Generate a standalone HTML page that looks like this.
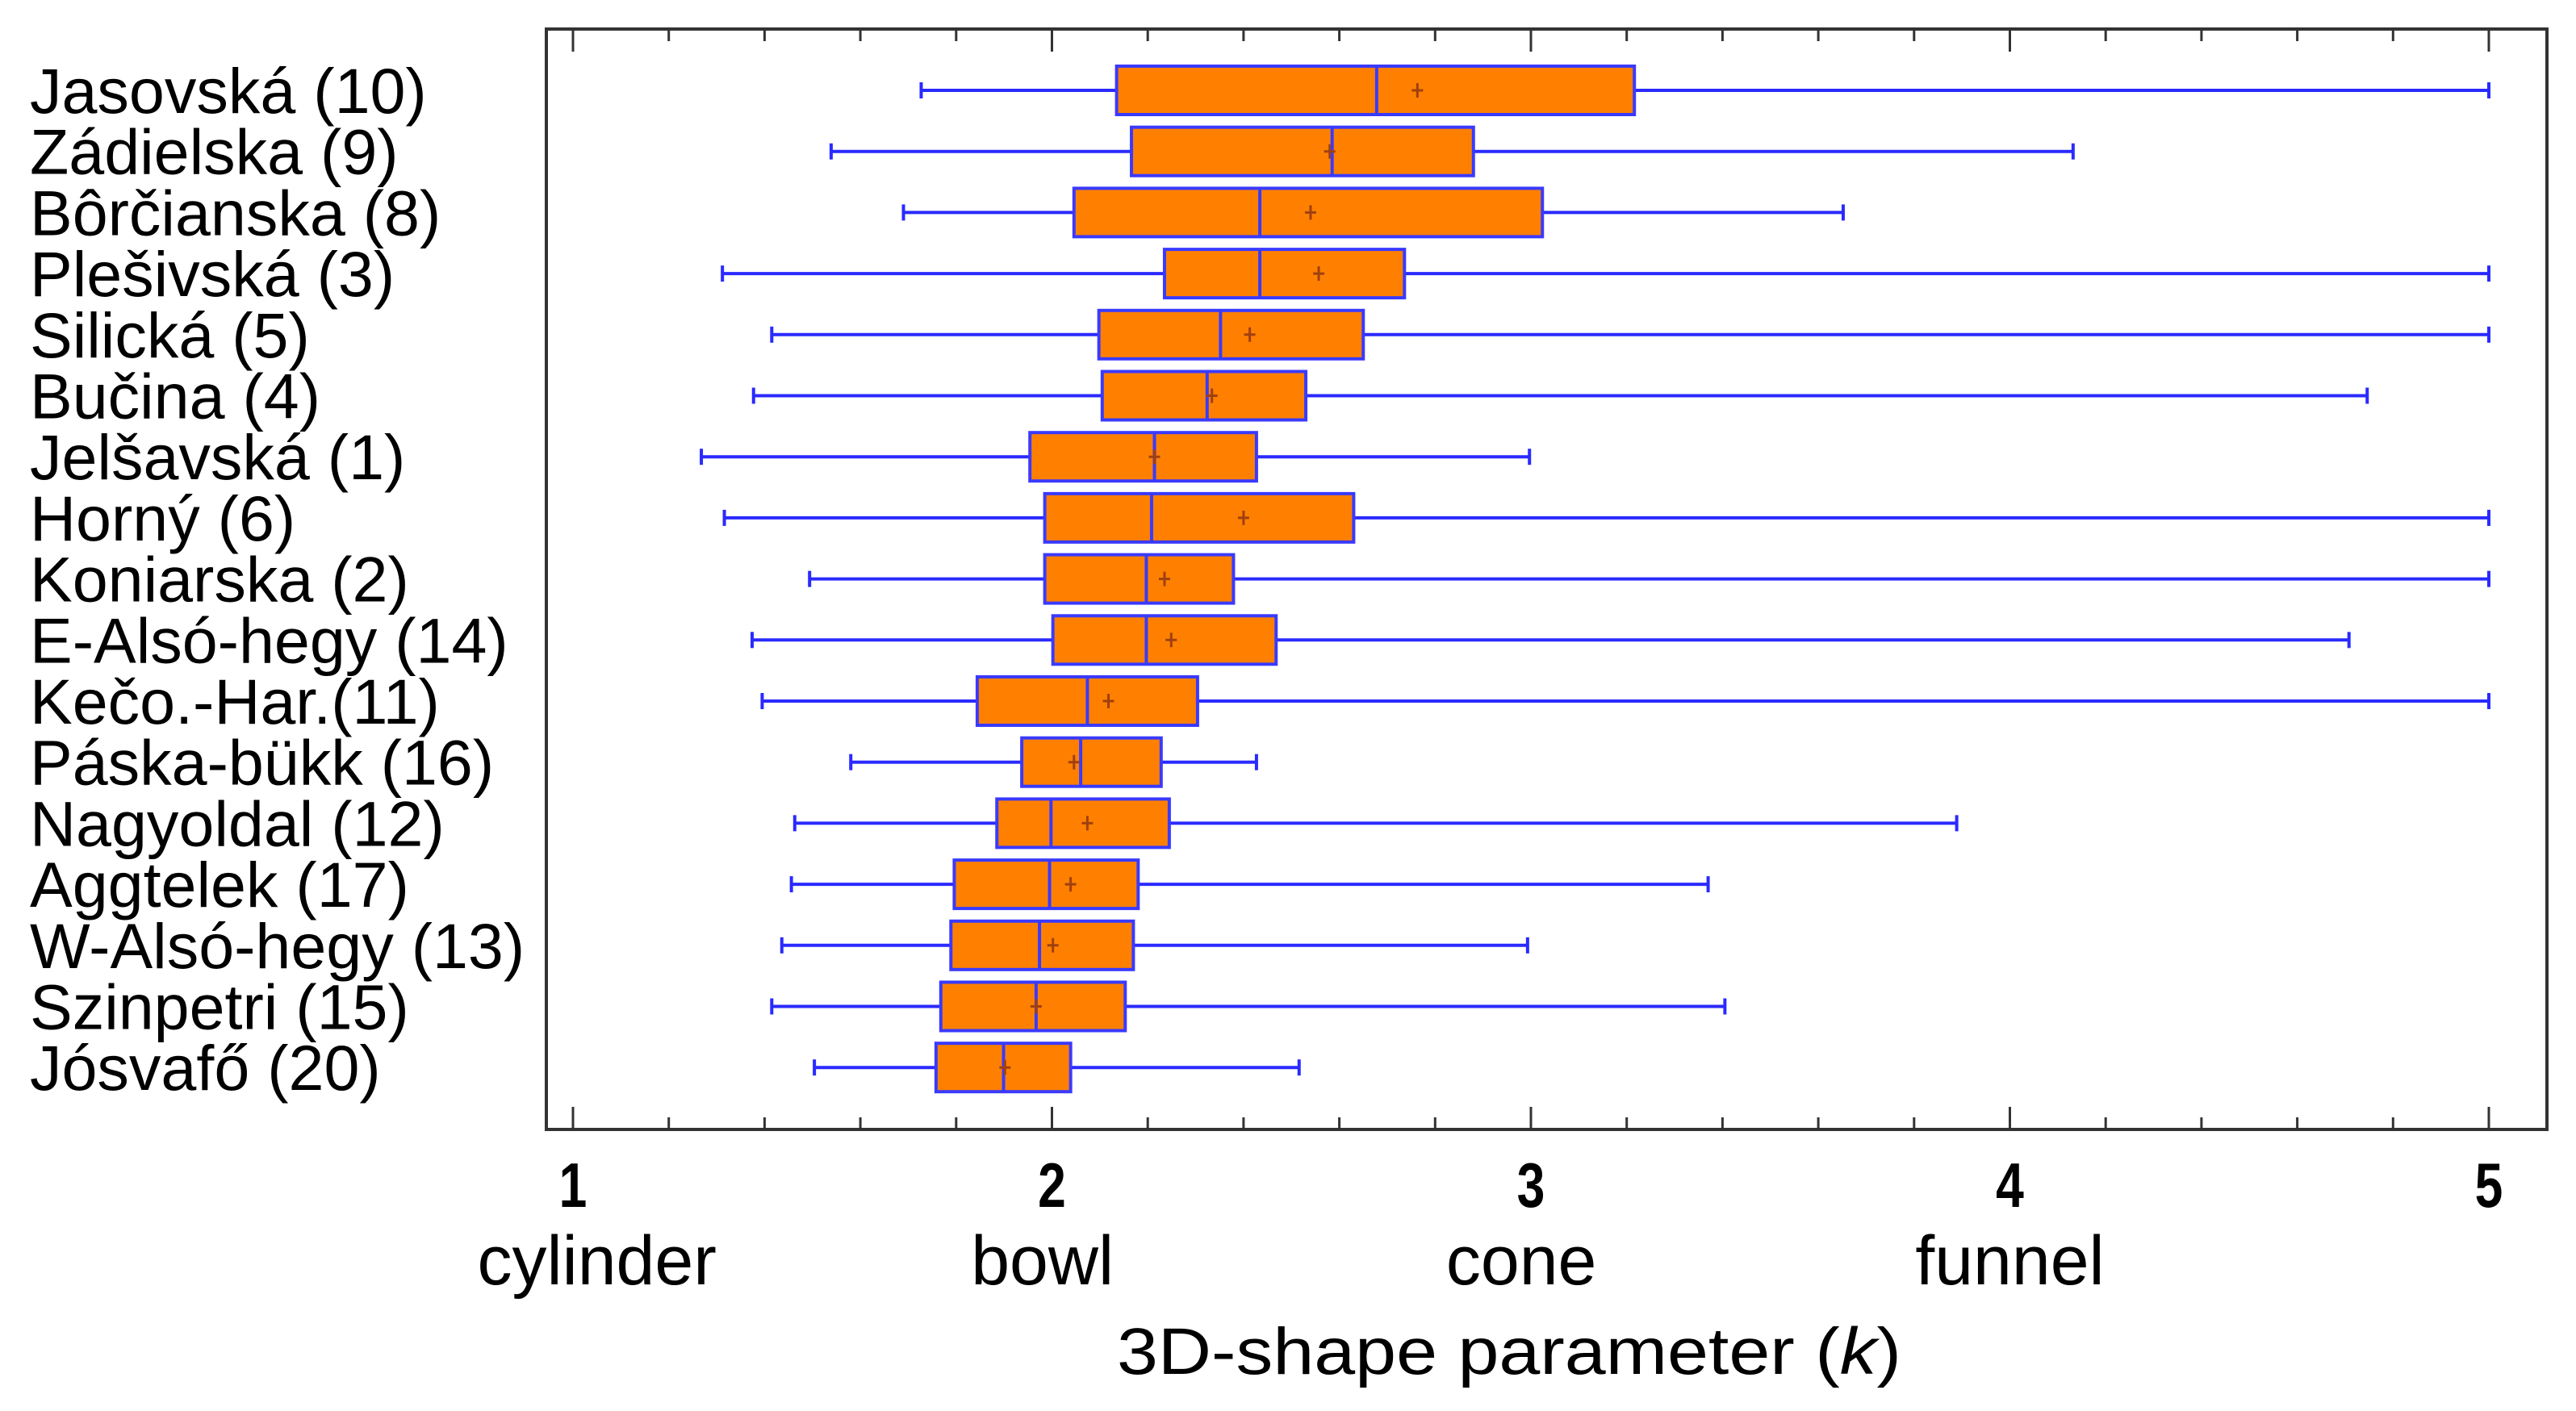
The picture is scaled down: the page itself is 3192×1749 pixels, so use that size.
<!DOCTYPE html>
<html><head><meta charset="utf-8"><style>
html,body{margin:0;padding:0;background:#fff;}
svg{display:block;}
text{font-family:"Liberation Sans",Arial,sans-serif;fill:#000;}
</style></head><body>
<svg id="chart" width="3192" height="1749" viewBox="0 0 3192 1749" xmlns="http://www.w3.org/2000/svg">
<g id="plot"></g>
</svg>
<script>
const categories = ["Jasovská (10)","Zádielska (9)","Bôrčianska (8)","Plešivská (3)","Silická (5)","Bučina (4)","Jelšavská (1)","Horný (6)","Koniarska (2)","E-Alsó-hegy (14)","Kečo.-Har.(11)","Páska-bükk (16)","Nagyoldal (12)","Aggtelek (17)","W-Alsó-hegy (13)","Szinpetri (15)","Jósvafő (20)"];
const whiskerLow = [1.727,1.539,1.690,1.312,1.415,1.377,1.268,1.316,1.494,1.374,1.395,1.580,1.463,1.456,1.436,1.415,1.504];
const q1 = [2.135,2.166,2.046,2.235,2.098,2.105,1.954,1.985,1.985,2.002,1.844,1.937,1.885,1.796,1.789,1.768,1.758];
const median = [2.678,2.585,2.434,2.434,2.352,2.324,2.214,2.208,2.197,2.197,2.074,2.060,1.998,1.995,1.974,1.967,1.899];
const mean = [2.763,2.580,2.540,2.557,2.413,2.334,2.214,2.400,2.235,2.249,2.118,2.046,2.074,2.039,2.002,1.967,1.902];
const q3 = [3.216,2.880,3.024,2.736,2.650,2.530,2.427,2.630,2.379,2.468,2.304,2.228,2.245,2.180,2.170,2.153,2.039];
const whiskerHigh = [5,4.132,3.652,5,5,4.746,2.997,5,5,4.708,5,2.427,3.889,3.370,2.993,3.405,2.516];
const majorTicks = [1,2,3,4,5];
const shapeLabels = ["cylinder","bowl","cone","funnel"];
const shapeLabelPos = [1.05,1.98,2.98,4.0];

const NS="http://www.w3.org/2000/svg";
const g=document.getElementById('plot');
const X0=710, X1=3084, VMIN=1, VMAX=5;
const xs=v=>X0+(v-VMIN)/(VMAX-VMIN)*(X1-X0);
const Y0=112, DY=75.7;
const ys=i=>Y0+i*DY;
function mk(tag,attrs,parent){const e=document.createElementNS(NS,tag);for(const k in attrs)e.setAttribute(k,attrs[k]);(parent||g).appendChild(e);return e;}

const frame=mk('rect',{x:677,y:36,width:2479,height:1364,fill:'none',stroke:'#333',"stroke-width":4});



for(let v=1;v<=5.0001;v+=0.2){
  const vv=Math.round(v*10)/10;
  const major=Math.abs(vv-Math.round(vv))<1e-6;
  const x=xs(vv);
  const len=major?28:15;
  const tb=mk('line',{x1:x,y1:1400,x2:x,y2:1400-len,stroke:'#333',"stroke-width":3});
  
  
  const tt=mk('line',{x1:x,y1:36,x2:x,y2:36+len,stroke:'#333',"stroke-width":3});
  
  
}
majorTicks.forEach(v=>{
  const t=mk('text',{x:xs(v),y:1496,"font-size":78,"font-weight":"bold","text-anchor":"middle",transform:`translate(${xs(v)},0) scale(0.8,1) translate(${-xs(v)},0)`});
  t.textContent=v;
  
  
});
shapeLabels.forEach((s,i)=>{
  const t=mk('text',{x:xs(shapeLabelPos[i]),y:1592,"font-size":86,"text-anchor":"middle"});
  t.textContent=s;
  
  
});
const title=mk('text',{x:1870,y:1703,"font-size":82,"text-anchor":"middle",textLength:972,lengthAdjust:"spacingAndGlyphs"});
title.innerHTML='3D-shape parameter (<tspan font-style="italic">k</tspan>)';



const BH=60;
categories.forEach((c,i)=>{
  const y=ys(i);
  const lab=mk('text',{x:37,y:y+28,"font-size":79});
  lab.textContent=c;
  
  
  const wl=mk('line',{x1:xs(whiskerLow[i]),y1:y,x2:xs(whiskerHigh[i]),y2:y,stroke:'#2a2aff',"stroke-width":4});
  
  
  [whiskerLow[i],whiskerHigh[i]].forEach(v=>{
    const cap=mk('line',{x1:xs(v),y1:y-10,x2:xs(v),y2:y+10,stroke:'#2a2aff',"stroke-width":4});
    
    
  });
  const box=mk('rect',{x:xs(q1[i]),y:y-BH/2,width:xs(q3[i])-xs(q1[i]),height:BH,fill:'#ff8000',stroke:'#3a3aff',"stroke-width":4});
  
  
  const md=mk('line',{x1:xs(median[i]),y1:y-BH/2,x2:xs(median[i]),y2:y+BH/2,stroke:'#3a3aff',"stroke-width":4});
  
  
  const mx=xs(mean[i]);
  const mp=mk('path',{d:`M${mx-7},${y}H${mx+7}M${mx},${y-9}V${y+9}`,stroke:'#a04010',"stroke-width":3,fill:'none'});
  
  
});
</script>
</body></html>
